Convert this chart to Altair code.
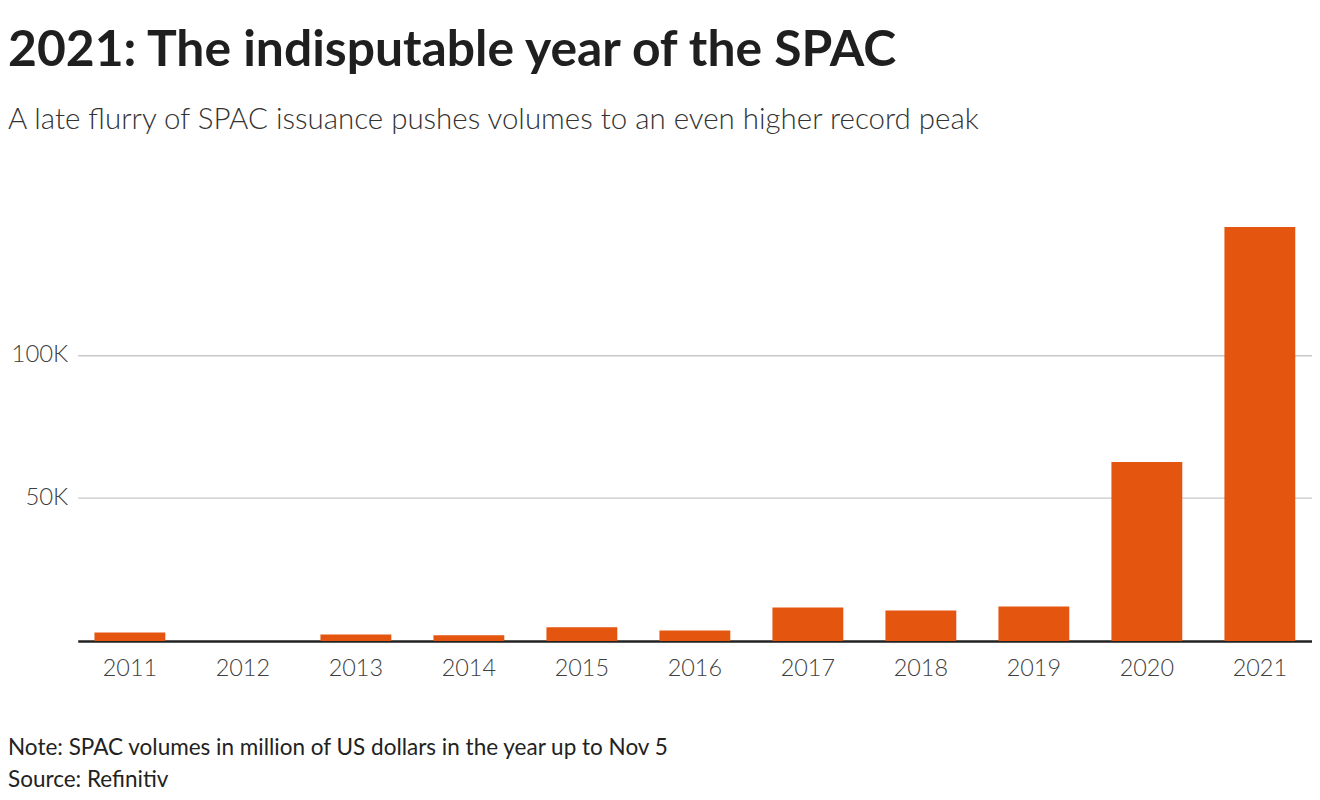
import altair as alt
import pandas as pd

years = ["2011", "2012", "2013", "2014", "2015", "2016", "2017", "2018", "2019", "2020", "2021"]
volumes = [3000, 0, 2300, 2000, 4800, 3700, 11700, 10700, 12100, 62600, 144700]
y_ticks = [50000, 100000]

title_text = "2021: The indisputable year of the SPAC"
subtitle_text = "A late flurry of SPAC issuance pushes volumes to an even higher record peak"
note_text = "Note: SPAC volumes in million of US dollars in the year up to Nov 5"
source_text = "Source: Refinitiv"

FONT = "Lato"
BAR = "#E4550F"

df = pd.DataFrame({"year": years, "volume": volumes})

W = 1239
H = 431

bars = alt.Chart(df).mark_bar(color=BAR).encode(
    x=alt.X("year:N", sort=years,
            scale=alt.Scale(paddingInner=0.373, paddingOuter=0.148),
            axis=alt.Axis(title=None, labelAngle=0, ticks=False, domain=True,
                          domainColor="#222222", domainWidth=2.5,
                          labelFont=FONT, labelFontSize=23.5, labelFontWeight=300,
                          labelColor="#404040", labelPadding=16, grid=False)),
    y=alt.Y("volume:Q", scale=alt.Scale(domain=[0, 150000], nice=False),
            axis=alt.Axis(title=None, values=y_ticks, ticks=False, domain=False,
                          labelExpr="datum.value / 1000 + 'K'",
                          labelFont=FONT, labelFontSize=24, labelFontWeight=300,
                          labelColor="#404040", labelPadding=10,
                          grid=True, gridColor="#c8c8c8", gridWidth=1.5)),
)

note = alt.Chart(pd.DataFrame({"t": [note_text]})).mark_text(
    align="left", baseline="middle", font=FONT, fontSize=22.6, color="#222222"
).encode(text="t:N", x=alt.value(-70), y=alt.value(538))

source = alt.Chart(pd.DataFrame({"t": [source_text]})).mark_text(
    align="left", baseline="middle", font=FONT, fontSize=22.6, color="#222222"
).encode(text="t:N", x=alt.value(-70), y=alt.value(570))

chart = alt.layer(bars, note, source).properties(
    width=W, height=H,
    padding={"left": 0, "top": 16, "right": 0, "bottom": 0},
    title=alt.TitleParams(
        text=title_text, subtitle=subtitle_text, anchor="start", frame="bounds",
        font=FONT, fontSize=50, fontWeight="bold", color="#1f1f1f",
        subtitleFont=FONT, subtitleFontSize=29.6, subtitleFontWeight=300,
        subtitleColor="#333333", subtitlePadding=31, offset=77,
    ),
).configure_view(strokeWidth=0)

chart.save("out.html", embed_options={"renderer": "svg", "actions": False})
